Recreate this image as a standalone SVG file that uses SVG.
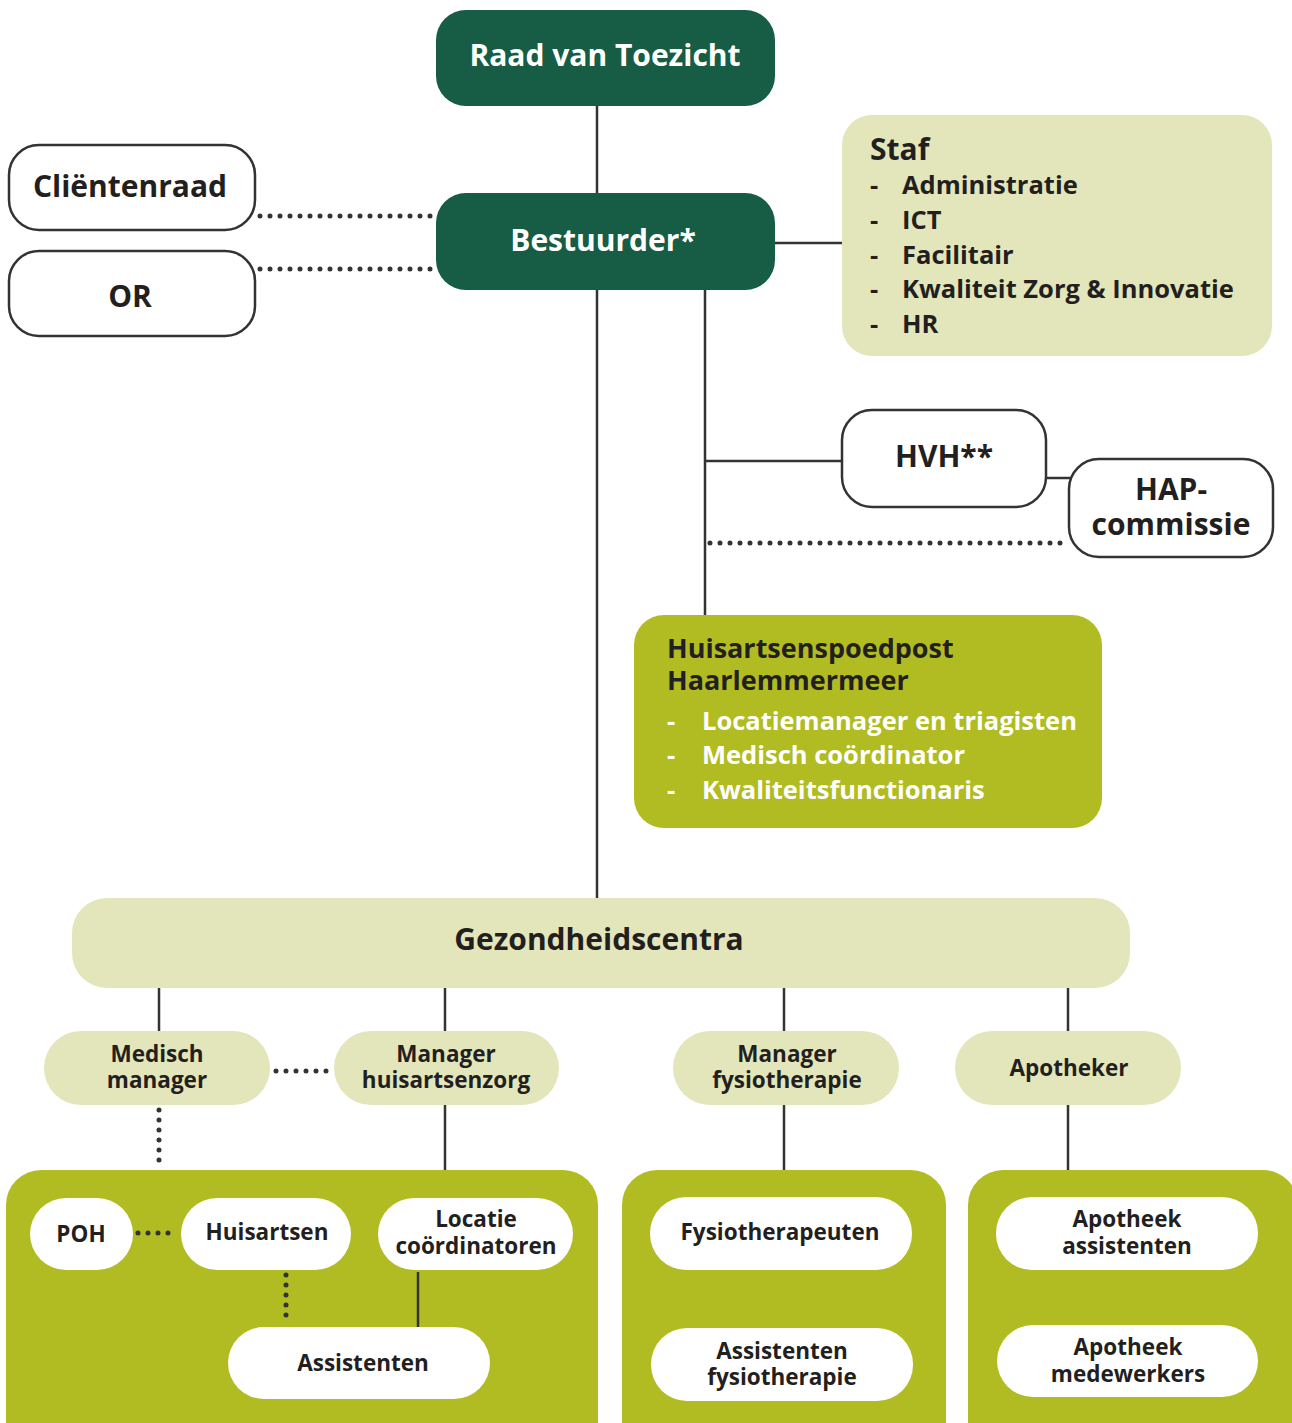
<svg xmlns="http://www.w3.org/2000/svg" width="1292" height="1423" viewBox="0 0 1292 1423">
<style>
text{font-family:"Open Sans","Noto Sans",sans-serif;font-weight:700;fill:#231F20}
.c{text-anchor:middle}
.w{fill:#fff}
.dark{fill:#175C45}
.light{fill:#E3E6BA}
.olive{fill:#B1BC22}
.white{fill:#fff}
.outl{fill:#fff;stroke:#333;stroke-width:2.5}
.ln{stroke:#333;stroke-width:2.5;fill:none}
.dot{stroke:#333;stroke-width:5;stroke-linecap:round;stroke-dasharray:0 10;fill:none}
.t30{font-size:30px}
.t27{font-size:27px}
.t26{font-size:25.5px}
.t23{font-size:22.5px}
</style>
<rect width="1292" height="1423" fill="#fff"/>
<g id="connectors">
<line class="ln" x1="597" y1="106" x2="597" y2="193"/>
<line class="ln" x1="597" y1="290" x2="597" y2="898"/>
<line class="ln" x1="705" y1="290" x2="705" y2="615"/>
<line class="ln" x1="775" y1="243" x2="842" y2="243"/>
<line class="ln" x1="705" y1="461" x2="842" y2="461"/>
<line class="ln" x1="1046" y1="478" x2="1070" y2="478"/>
<line class="dot" x1="260" y1="216" x2="434" y2="216"/>
<line class="dot" x1="260" y1="269" x2="434" y2="269"/>
<line class="dot" x1="710" y1="543" x2="1066" y2="543"/>
<line class="ln" x1="159" y1="988" x2="159" y2="1031"/>
<line class="ln" x1="445" y1="988" x2="445" y2="1031"/>
<line class="ln" x1="784" y1="988" x2="784" y2="1031"/>
<line class="ln" x1="1068" y1="988" x2="1068" y2="1031"/>
<line class="dot" x1="276" y1="1071" x2="332" y2="1071"/>
<line class="dot" x1="159" y1="1110" x2="159" y2="1165"/>
<line class="ln" x1="445" y1="1105" x2="445" y2="1170"/>
<line class="ln" x1="784" y1="1105" x2="784" y2="1170"/>
<line class="ln" x1="1068" y1="1105" x2="1068" y2="1170"/>
</g>
<g id="raad"><rect class="dark" x="436" y="10" width="339" height="96" rx="30"/><text class="c w t30" x="605" y="66">Raad van Toezicht</text></g>
<g id="bestuurder"><rect class="dark" x="436" y="193" width="339" height="97" rx="30"/><text class="c w t30" x="603" y="251">Bestuurder*</text></g>
<g id="clientenraad"><rect class="outl" x="9" y="145" width="246" height="85" rx="30"/><text class="c t30" x="130" y="197">Cliëntenraad</text></g>
<g id="or"><rect class="outl" x="9" y="251" width="246" height="85" rx="30"/><text class="c t30" x="130" y="307">OR</text></g>
<g id="staf"><rect class="light" x="842" y="115" width="430" height="241" rx="30"/>
<text class="t30" x="870" y="160">Staf</text>
<g class="t26">
<text x="870" y="194">-</text><text x="902" y="194">Administratie</text>
<text x="870" y="229">-</text><text x="902" y="229">ICT</text>
<text x="870" y="264">-</text><text x="902" y="264">Facilitair</text>
<text x="870" y="298">-</text><text x="902" y="298">Kwaliteit Zorg &amp; Innovatie</text>
<text x="870" y="333">-</text><text x="902" y="333">HR</text>
</g></g>
<g id="hvh"><rect class="outl" x="842" y="410" width="204" height="97" rx="30"/><text class="c t30" x="944" y="467">HVH**</text></g>
<g id="hap"><rect class="outl" x="1069" y="459" width="204" height="98" rx="30"/><text class="c t30" x="1171" y="500">HAP-</text><text class="c t30" x="1171" y="535">commissie</text></g>
<g id="hap-haarlemmermeer"><rect class="olive" x="634" y="615" width="468" height="213" rx="30"/>
<text class="t27" x="667" y="658">Huisartsenspoedpost</text>
<text class="t27" x="667" y="690">Haarlemmermeer</text>
<g class="t26">
<text class="w" x="667" y="730">-</text><text class="w" x="702" y="730">Locatiemanager en triagisten</text>
<text class="w" x="667" y="764">-</text><text class="w" x="702" y="764">Medisch coördinator</text>
<text class="w" x="667" y="799">-</text><text class="w" x="702" y="799">Kwaliteitsfunctionaris</text>
</g></g>
<g id="gezondheidscentra"><rect class="light" x="72" y="898" width="1058" height="90" rx="35"/><text class="c t30" x="599" y="950">Gezondheidscentra</text></g>
<g id="medisch-manager"><rect class="light" x="44" y="1031" width="226" height="74" rx="37"/><text class="c t23" x="157" y="1062">Medisch</text><text class="c t23" x="157" y="1088">manager</text></g>
<g id="manager-huisartsenzorg"><rect class="light" x="334" y="1031" width="225" height="74" rx="37"/><text class="c t23" x="446" y="1062">Manager</text><text class="c t23" x="446" y="1088">huisartsenzorg</text></g>
<g id="manager-fysiotherapie"><rect class="light" x="673" y="1031" width="226" height="74" rx="37"/><text class="c t23" x="787" y="1062">Manager</text><text class="c t23" x="787" y="1088">fysiotherapie</text></g>
<g id="apotheker"><rect class="light" x="955" y="1031" width="226" height="74" rx="37"/><text class="c t23" x="1069" y="1076">Apotheker</text></g>
<g id="huisartsenzorg-groep"><rect class="olive" x="6" y="1170" width="592" height="290" rx="35"/></g>
<g id="fysio-groep"><rect class="olive" x="622" y="1170" width="324" height="290" rx="35"/></g>
<g id="apotheek-groep"><rect class="olive" x="968" y="1170" width="330" height="290" rx="35"/></g>
<g id="inner-connectors">
<line class="dot" x1="138" y1="1233" x2="178" y2="1233"/>
<line class="dot" x1="286" y1="1275" x2="286" y2="1322"/>
<line class="ln" x1="418" y1="1272" x2="418" y2="1327"/>
</g>
<g id="poh"><rect class="white" x="30" y="1198" width="103" height="72" rx="36"/><text class="c t23" x="81" y="1242">POH</text></g>
<g id="huisartsen"><rect class="white" x="181" y="1198" width="170" height="72" rx="36"/><text class="c t23" x="267" y="1240">Huisartsen</text></g>
<g id="locatie"><rect class="white" x="378" y="1198" width="195" height="72" rx="36"/><text class="c t23" x="476" y="1227">Locatie</text><text class="c t23" x="476" y="1254">coördinatoren</text></g>
<g id="assistenten"><rect class="white" x="228" y="1327" width="262" height="72" rx="36"/><text class="c t23" x="363" y="1371">Assistenten</text></g>
<g id="fysiotherapeuten"><rect class="white" x="650" y="1197" width="262" height="73" rx="36"/><text class="c t23" x="780" y="1240">Fysiotherapeuten</text></g>
<g id="assistenten-fysio"><rect class="white" x="651" y="1328" width="262" height="73" rx="36"/><text class="c t23" x="782" y="1359">Assistenten</text><text class="c t23" x="782" y="1385">fysiotherapie</text></g>
<g id="apotheek-assistenten"><rect class="white" x="996" y="1197" width="262" height="73" rx="36"/><text class="c t23" x="1127" y="1227">Apotheek</text><text class="c t23" x="1127" y="1254">assistenten</text></g>
<g id="apotheek-medewerkers"><rect class="white" x="997" y="1325" width="261" height="72" rx="36"/><text class="c t23" x="1128" y="1355">Apotheek</text><text class="c t23" x="1128" y="1382">medewerkers</text></g>
</svg>
